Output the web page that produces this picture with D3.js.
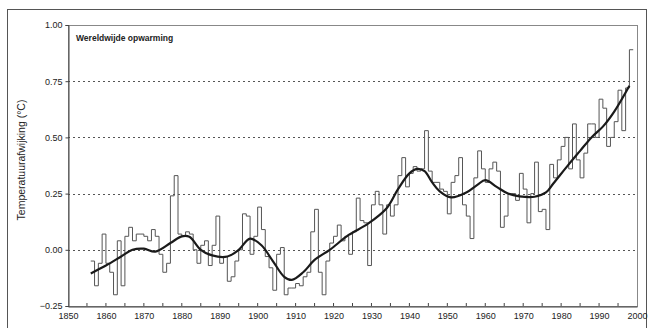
<!DOCTYPE html>
<html><head><meta charset="utf-8">
<script src="https://cdn.jsdelivr.net/npm/d3@7"></script>
<style>html,body{margin:0;padding:0;background:#fff;} svg{display:block;font-family:"Liberation Sans",Arial,sans-serif;}</style>
</head><body><svg id="c" width="653" height="328"></svg>
<script>
// ---- data ----
const firstYear = 1856;
const annualValues = [
 -0.05,-0.16,-0.06,0.07,-0.06,-0.10,-0.20,0.04,-0.16,0.06,   // 1856-1865
 0.10,0.04,0.07,0.07,0.06,0.04,0.09,0.06,-0.02,-0.10,       // 1866-1875
 -0.06,0.24,0.33,0.07,0.06,0.08,0.07,0.00,-0.06,0.02,       // 1876-1885
 0.04,-0.07,0.02,0.15,-0.06,-0.03,-0.14,-0.12,-0.05,0.00,   // 1886-1895
 0.16,0.15,-0.02,0.06,0.19,0.09,-0.03,-0.08,-0.18,-0.02,    // 1896-1905
 0.01,-0.20,-0.17,-0.17,-0.15,-0.16,-0.12,-0.10,0.08,0.18,  // 1906-1915
 -0.10,-0.20,-0.05,0.03,0.06,0.11,0.04,0.06,-0.02,0.08,     // 1916-1925
 0.23,0.13,0.12,-0.07,0.20,0.26,0.20,0.07,0.20,0.15,        // 1926-1935
 0.20,0.33,0.41,0.28,0.34,0.37,0.35,0.36,0.53,0.35,         // 1936-1945
 0.30,0.30,0.27,0.26,0.16,0.30,0.33,0.41,0.20,0.15,         // 1946-1955
 0.05,0.32,0.44,0.36,0.30,0.36,0.39,0.35,0.10,0.15,         // 1956-1965
 0.25,0.25,0.22,0.34,0.27,0.12,0.25,0.39,0.17,0.18,         // 1966-1975
 0.09,0.38,0.32,0.40,0.46,0.50,0.36,0.56,0.40,0.32,         // 1976-1985
 0.43,0.56,0.56,0.50,0.67,0.63,0.46,0.50,0.57,0.71,         // 1986-1995
 0.53,0.72,0.89                                             // 1996-1998
];
const smoothYears  = [1856,1860,1864,1867,1870,1873,1877,1880,1882,1885,1888,1892,1895,1898,1901,1904,1907,1909,1912,1915,1919,1924,1929,1934,1937,1940,1942,1944,1946,1948,1951,1955,1958,1960,1963,1966,1969,1973,1976,1978,1982,1985,1988,1991,1994,1998];
const smoothValues = [-0.105,-0.07,-0.03,0.0,0.005,-0.008,0.03,0.06,0.058,0.0,-0.025,-0.03,0.0,0.05,0.02,-0.05,-0.12,-0.134,-0.10,-0.045,0.0,0.066,0.115,0.185,0.27,0.34,0.36,0.35,0.30,0.26,0.233,0.255,0.29,0.31,0.28,0.25,0.238,0.236,0.255,0.296,0.38,0.44,0.50,0.548,0.615,0.73];
const xTickLabels = [1850,1860,1870,1880,1890,1900,1910,1920,1930,1940,1950,1960,1970,1980,1990,2000];
const xMinorTicks = [1855,1860,1865,1870,1875,1880,1885,1890,1895,1900,1905,1910,1915,1920,1925,1930,1935,1940,1945,1950,1955,1960,1965,1970,1975,1980,1985,1990,1995];
const yTickValues = [-0.25,0.00,0.25,0.50,0.75,1.00];
const gridValues = [0.00,0.25,0.50,0.75];
const titleText = "Wereldwijde opwarming";
const yTitle = "Temperatuurafwijking (°C)";

// ---- drawing ----
const svg = d3.select("#c");
const L = 68, R = 637, T = 25, B = 306;
const x = d3.scaleLinear().domain([1850, 2000]).range([L, R]);
const y = d3.scaleLinear().domain([-0.25, 1.00]).range([B, T]);

// outer frame
svg.append("rect").attr("x", 7.5).attr("y", 9.5).attr("width", 639).attr("height", 330)
  .attr("fill", "none").attr("stroke", "#555").attr("stroke-width", 1);

// plot frame
svg.append("rect").attr("x", L + 0.5).attr("y", T + 0.5).attr("width", R - L).attr("height", B - T)
  .attr("fill", "none").attr("stroke", "#888").attr("stroke-width", 1);

// grid
svg.append("g").selectAll("line").data(gridValues).join("line")
  .attr("x1", L).attr("x2", R)
  .attr("y1", d => Math.round(y(d)) + 0.5).attr("y2", d => Math.round(y(d)) + 0.5)
  .attr("stroke", "#555").attr("stroke-width", 1).attr("stroke-dasharray", "2,3");

// axes
const yAxis = d3.axisLeft(y).tickValues(yTickValues).tickFormat(d3.format(".2f")).tickSize(3).tickPadding(3);
const gy = svg.append("g").attr("transform", `translate(${L + 0.5},0)`).call(yAxis);
gy.select(".domain").attr("stroke", "#444");
gy.selectAll(".tick line").attr("stroke", "#444");
gy.selectAll("text").attr("font-size", 9).attr("fill", "#222")
  .attr("font-family", "'Liberation Sans',Arial,sans-serif");

const xAxis = d3.axisBottom(x).tickValues(xTickLabels).tickFormat(d3.format("d")).tickSize(0).tickPadding(6);
const gx = svg.append("g").attr("transform", `translate(0,${B + 0.5})`).call(xAxis);
gx.select(".domain").attr("stroke", "#444");
gx.selectAll("text").attr("font-size", 9).attr("fill", "#222")
  .attr("font-family", "'Liberation Sans',Arial,sans-serif");

// minor inward ticks on the x axis
svg.append("g").selectAll("line").data(xMinorTicks).join("line")
  .attr("x1", d => x(d)).attr("x2", d => x(d))
  .attr("y1", B).attr("y2", B - 3)
  .attr("stroke", "#444").attr("stroke-width", 1);

// annual step line
const annual = annualValues.map((v, i) => ({ year: firstYear + i, v }));
const stepPts = annual.concat([{ year: annual[annual.length - 1].year + 1, v: annual[annual.length - 1].v }]);
const stepLine = d3.line().x(d => x(d.year)).y(d => y(d.v)).curve(d3.curveStepAfter);
svg.append("path").datum(stepPts).attr("d", stepLine)
  .attr("fill", "none").attr("stroke", "#555").attr("stroke-width", 1);

// smoothed curve
const smooth = smoothYears.map((yr, i) => ({ year: yr, v: smoothValues[i] }));
const smoothLine = d3.line().x(d => x(d.year)).y(d => y(d.v)).curve(d3.curveCatmullRom.alpha(0.5));
svg.append("path").datum(smooth).attr("d", smoothLine)
  .attr("fill", "none").attr("stroke", "#1a1a1a").attr("stroke-width", 2.2);

// title inside plot
svg.append("text").attr("x", 76).attr("y", 41).text(titleText)
  .attr("font-size", 8.5).attr("font-weight", "bold").attr("fill", "#222");

// y-axis title
svg.append("text").attr("transform", "translate(25,160) rotate(-90)")
  .attr("text-anchor", "middle").attr("font-size", 10.5).attr("fill", "#222").text(yTitle);
</script>
</body></html>
